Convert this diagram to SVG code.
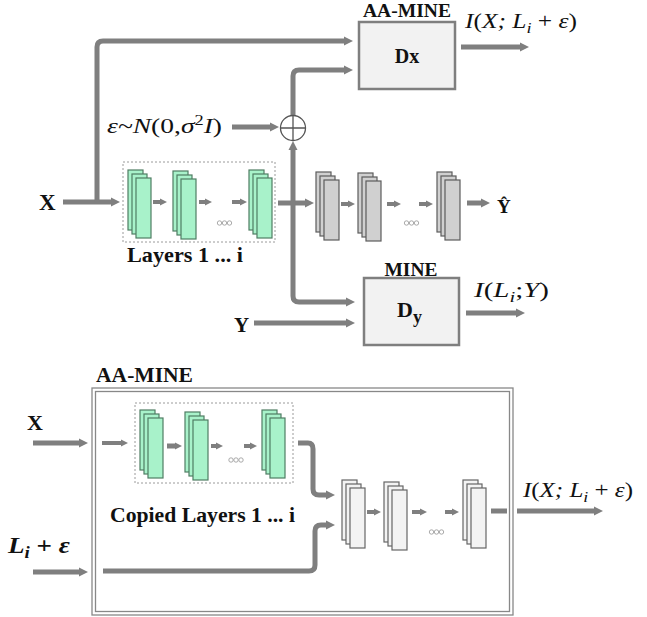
<svg xmlns="http://www.w3.org/2000/svg" xmlns:xlink="http://www.w3.org/1999/xlink" width="647" height="617" viewBox="0 0 647 617">
<style>
.c{fill:none;stroke:#7f7f7f;stroke-width:5;stroke-linejoin:round}
.s{fill:none;stroke:#7f7f7f;stroke-width:4}
.box{fill:#f2f2f2;stroke:#7f7f7f;stroke-width:2.5}
.dot{fill:none;stroke:#9a9a9a;stroke-width:1;stroke-dasharray:2 2}
.green{fill:#a8f2ca;stroke:#4f7d63;stroke-width:1.2}
.gray{fill:#d0d0d0;stroke:#5c5c5c;stroke-width:1.2}
.white{fill:#f3f3f3;stroke:#666;stroke-width:1.2}
.o{fill:none;stroke:#a0a0a0;stroke-width:0.9}
.b{font-family:"Liberation Serif","Times New Roman",serif;font-weight:bold;fill:#111}
.m{font-family:"Liberation Serif","Times New Roman",serif;font-style:italic;fill:#111}
.u{font-style:normal}
</style>
<defs>
<marker id="ah" viewBox="0 0 10 10" refX="0" refY="5" markerWidth="9" markerHeight="12" markerUnits="userSpaceOnUse" orient="auto">
<path d="M0,0 L10,5 L0,10 z" fill="#7f7f7f"/>
</marker>
<marker id="sh" viewBox="0 0 10 10" refX="0" refY="5" markerWidth="7" markerHeight="9" markerUnits="userSpaceOnUse" orient="auto">
<path d="M0,0 L10,5 L0,10 z" fill="#7f7f7f"/>
</marker>
<g id="stk">
<rect x="0" y="0" width="15" height="60"/>
<rect x="4" y="4" width="15" height="60"/>
<rect x="8" y="8" width="15" height="60"/>
</g>
<g id="ooo">
<circle cx="0" cy="0" r="2.2"/>
<circle cx="5" cy="0" r="2.2"/>
<circle cx="10" cy="0" r="2.2"/>
</g>
</defs>

<g id="connectors">
<path class="c" d="M63,202 H111" marker-end="url(#ah)"/>
<path class="c" d="M97,202 V47 Q97,41 103,41 H344" marker-end="url(#ah)"/>
<path class="c" d="M278,203 H305" marker-end="url(#ah)"/>
<path class="c" d="M293,203 V150" marker-end="url(#ah)"/>
<path class="c" d="M293,115 V76 Q293,70 299,70 H344" marker-end="url(#ah)"/>
<path class="c" d="M293,203 V296 Q293,302 299,302 H346" marker-end="url(#ah)"/>
<path class="c" d="M232,127 H270" marker-end="url(#ah)"/>
<path class="c" d="M254,323 H346" marker-end="url(#ah)"/>
<path class="c" d="M461,47 H520" marker-end="url(#ah)"/>
<path class="c" d="M466,313 H516" marker-end="url(#ah)"/>
<path class="c" d="M467,203 H481" marker-end="url(#ah)"/>
<path class="s" d="M153,202 H160" marker-end="url(#sh)"/>
<path class="s" d="M199,202 H205" marker-end="url(#sh)"/>
<path class="s" d="M232,202 H240" marker-end="url(#sh)"/>
<path class="s" d="M341,204 H348" marker-end="url(#sh)"/>
<path class="s" d="M387,204 H394" marker-end="url(#sh)"/>
<path class="s" d="M419,204 H426" marker-end="url(#sh)"/>
<path class="c" d="M33,443 H79" marker-end="url(#ah)"/>
<path class="s" d="M102,443 H121" marker-end="url(#sh)"/>
<path class="c" d="M167,446 H175" marker-end="url(#sh)"/>
<path class="s" d="M211,446 H216" marker-end="url(#sh)"/>
<path class="s" d="M244,446 H250" marker-end="url(#sh)"/>
<path class="c" d="M298,443 H308 Q313,443 313,449 V489 Q313,495 319,495 H326" marker-end="url(#ah)"/>
<path class="c" d="M33,572 H79" marker-end="url(#ah)"/>
<path class="c" d="M103,571 H309 Q315,571 315,565 V531 Q315,525 321,525 H326" marker-end="url(#ah)"/>
<path class="s" d="M367,512 H374" marker-end="url(#sh)"/>
<path class="s" d="M412,512 H420" marker-end="url(#sh)"/>
<path class="s" d="M445,512 H452" marker-end="url(#sh)"/>
<path class="c" d="M491,511 H507"/>
<path class="c" d="M517,511 H594" marker-end="url(#ah)"/>
</g>

<g id="input-x">
<text class="b" x="39" y="210" font-size="23">X</text>
</g>
<g id="noise">
<text class="m" x="107" y="133" font-size="21" textLength="115" lengthAdjust="spacingAndGlyphs">ε~N<tspan class="u">(0,</tspan>σ<tspan class="u" font-size="14" dy="-8">2</tspan><tspan dy="8">I</tspan><tspan class="u">)</tspan></text>
</g>
<g id="sum">
<circle cx="293" cy="128" r="12.5" fill="#fff" stroke="#555" stroke-width="1.3"/>
<path d="M280.5,128 H305.5 M293,115.5 V140.5" stroke="#555" stroke-width="1.3"/>
</g>
<g id="dx">
<rect class="box" x="359" y="22" width="96" height="67"/>
<text class="b" x="407" y="16.5" font-size="18.5" text-anchor="middle" textLength="88" lengthAdjust="spacingAndGlyphs">AA-MINE</text>
<text class="b" x="407" y="63" font-size="20" text-anchor="middle">Dx</text>
</g>
<g id="label-ix">
<text class="m" x="465" y="28" font-size="21" textLength="112" lengthAdjust="spacingAndGlyphs">I<tspan class="u">(</tspan>X; L<tspan font-size="15" dy="5">i</tspan><tspan class="u" dy="-5"> + </tspan>ε<tspan class="u">)</tspan></text>
</g>
<g id="layers">
<rect class="dot" x="123" y="162" width="152" height="80"/>
<use href="#stk" class="green" x="128" y="170"/>
<use href="#stk" class="green" x="173" y="171"/>
<use href="#stk" class="green" x="249" y="170"/>
<use href="#ooo" class="o" x="219.5" y="223"/>
<text class="b" x="127" y="262" font-size="21" textLength="116" lengthAdjust="spacingAndGlyphs">Layers 1 ... i</text>
</g>
<g id="rest-layers">
<use href="#stk" class="gray" x="316" y="172"/>
<use href="#stk" class="gray" x="358" y="173"/>
<use href="#stk" class="gray" x="437" y="172"/>
<use href="#ooo" class="o" x="406.5" y="223"/>
</g>
<g id="y-hat">
<text class="b" x="497" y="213" font-size="19">Ŷ</text>
</g>
<g id="dy">
<rect class="box" x="364" y="278" width="95" height="67"/>
<text class="b" x="411" y="276" font-size="19.5" text-anchor="middle" textLength="53" lengthAdjust="spacingAndGlyphs">MINE</text>
<text class="b" x="397" y="317" font-size="22">D<tspan font-size="18" dy="6">y</tspan></text>
</g>
<g id="input-y">
<text class="b" x="234" y="332" font-size="21">Y</text>
</g>
<g id="label-iy">
<text class="m" x="474" y="297" font-size="21" textLength="75" lengthAdjust="spacingAndGlyphs">I<tspan class="u">(</tspan>L<tspan font-size="15" dy="5">i</tspan><tspan class="u" dy="-5">;</tspan>Y<tspan class="u">)</tspan></text>
</g>

<g id="aa-mine-box">
<text class="b" x="96" y="382" font-size="20" textLength="97" lengthAdjust="spacingAndGlyphs">AA-MINE</text>
<rect x="92" y="388" width="421" height="227" fill="none" stroke="#888" stroke-width="1.3"/>
<rect x="95.5" y="391.5" width="414" height="220" fill="none" stroke="#888" stroke-width="1.3"/>
</g>
<g id="input-x2">
<text class="b" x="27" y="430" font-size="22">X</text>
</g>
<g id="input-l">
<text class="b" x="8" y="553" font-size="23" font-style="italic" textLength="62" lengthAdjust="spacingAndGlyphs">L<tspan font-size="16" dy="5">i</tspan><tspan dy="-5" font-style="normal"> + </tspan>ε</text>
</g>
<g id="copied-layers">
<rect class="dot" x="135" y="403" width="158" height="80"/>
<use href="#stk" class="green" x="140" y="410"/>
<use href="#stk" class="green" x="185" y="412"/>
<use href="#stk" class="green" x="262" y="410"/>
<use href="#ooo" class="o" x="231" y="460"/>
<text class="b" x="110" y="522" font-size="22" textLength="185" lengthAdjust="spacingAndGlyphs">Copied Layers 1 ... i</text>
</g>
<g id="decoder-layers">
<use href="#stk" class="white" x="342" y="480"/>
<use href="#stk" class="white" x="384" y="482"/>
<use href="#stk" class="white" x="463" y="480"/>
<use href="#ooo" class="o" x="431.5" y="532"/>
</g>
<g id="label-ix2">
<text class="m" x="523" y="497" font-size="21" textLength="110" lengthAdjust="spacingAndGlyphs">I<tspan class="u">(</tspan>X; L<tspan font-size="15" dy="5">i</tspan><tspan class="u" dy="-5"> + </tspan>ε<tspan class="u">)</tspan></text>
</g>
</svg>
